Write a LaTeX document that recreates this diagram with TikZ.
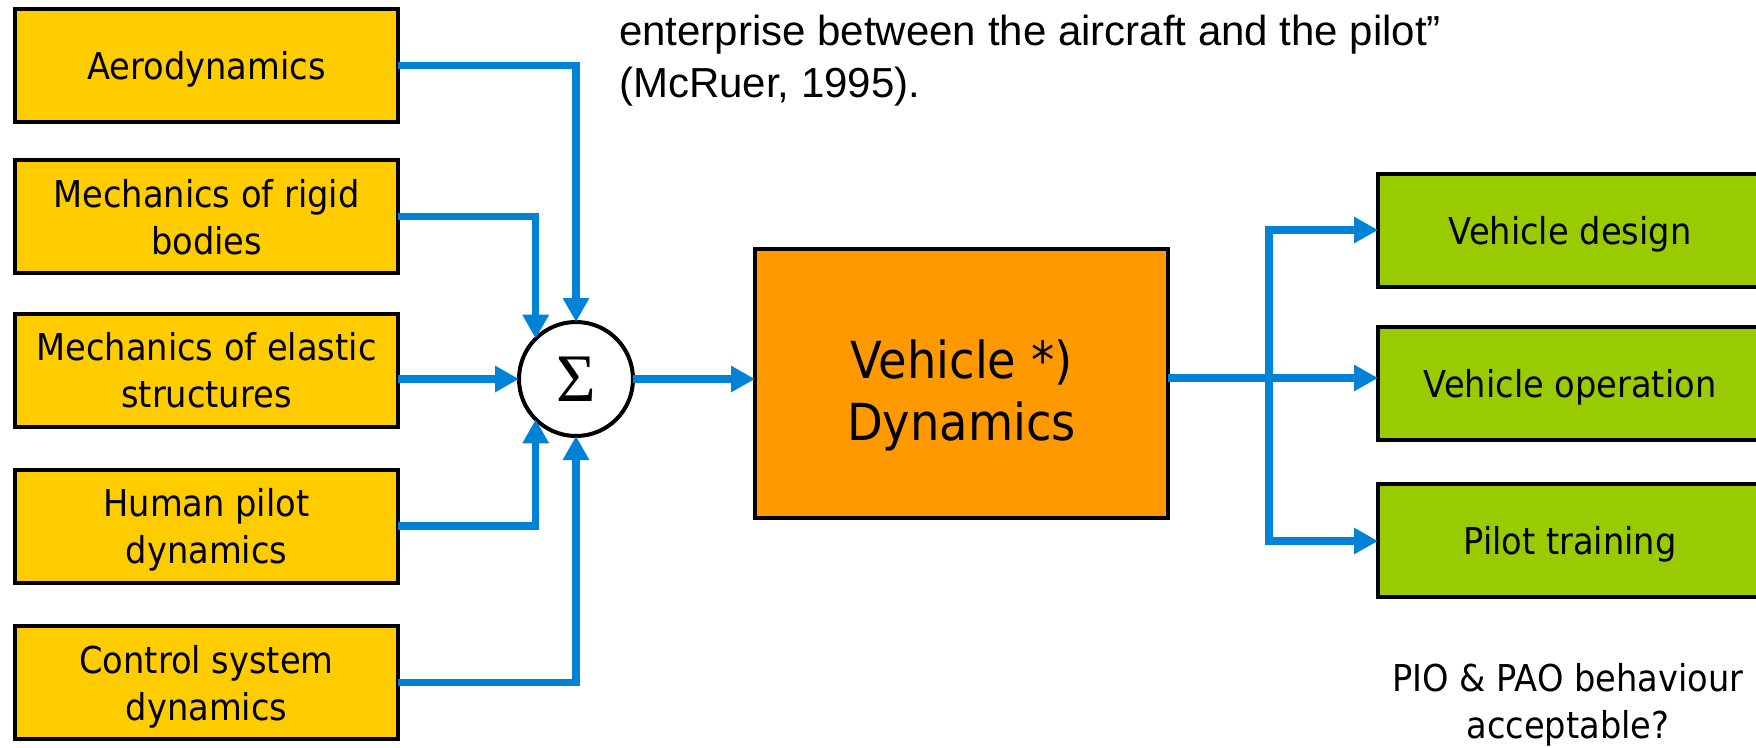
\documentclass[tikz,border=0pt]{standalone}
\usepackage{fontspec}
\usetikzlibrary{arrows.meta}
\newfontfamily\boxfont[FakeStretch=0.91]{DejaVu Sans}
\newfontfamily\quotefont{Liberation Sans}
\newfontfamily\sigmafont{Liberation Serif}
\definecolor{boxyellow}{HTML}{FFCC00}
\definecolor{boxorange}{HTML}{FF9900}
\definecolor{boxgreen}{HTML}{99CC00}
\definecolor{linkblue}{HTML}{0082D6}
\tikzset{
  inbox/.style={draw=black, line width=4pt, fill=boxyellow, minimum width=383pt,
    minimum height=113pt, align=center, inner sep=0pt, outer sep=0pt, text depth=0pt,
    font=\boxfont\fontsize{37}{47}\selectfont},
  outbox/.style={inbox, fill=boxgreen, minimum width=384pt},
  corebox/.style={inbox, fill=boxorange, minimum width=413pt, minimum height=269pt},
  coretext/.style={align=center, inner sep=0pt, text depth=0pt,
    font=\boxfont\fontsize{51}{62}\selectfont},
  sumnode/.style={draw=black, line width=4pt, circle, fill=white, minimum size=114pt,
    inner sep=0pt, outer sep=0pt, font=\sigmafont\fontsize{68}{68}\selectfont},
  link/.style={draw=linkblue, line width=7.5pt, -{Triangle[length=24pt,width=25pt]}},
  plainlink/.style={draw=linkblue, line width=7.5pt},
  quote/.style={anchor=base west, inner sep=0pt, font=\quotefont\fontsize{42}{52}\selectfont},
  note/.style={align=center, inner sep=0pt, font=\boxfont\fontsize{37}{47}\selectfont}
}
\begin{document}
\begin{tikzpicture}[x=1pt, y=-1pt]
\useasboundingbox (0,0) rectangle (1756,747);
\clip (0,0) rectangle (1756,747);

% input disciplines
\node[inbox] (aero)  at (206.5, 65.5)  {Aerodynamics};
\node[inbox] (rigid) at (206.5, 216.5) {Mechanics of rigid\\bodies};
\node[inbox] (elast) at (206.5, 370)   {Mechanics of elastic\\structures};
\node[inbox] (human) at (206.5, 526)   {Human pilot\\dynamics};
\node[inbox] (ctrl)  at (206.5, 682.5) {Control system\\dynamics};

% summing junction and vehicle dynamics
\node[sumnode] (sum) at (576, 379) {Σ};
\node[corebox] (veh) at (961.5, 383.5) {};
\node[coretext] (vehtext) at (961.5, 390) {Vehicle *)\\Dynamics};

% applications
\node[outbox] (design) at (1570, 230.5) {Vehicle design};
\node[outbox] (oper)   at (1570, 383)   {Vehicle operation};
\node[outbox] (train)  at (1570, 540.5) {Pilot training};

% quotation
\node[quote] (q1) at (619, 45) {enterprise between the aircraft and the pilot”};
\node[quote] (q2) at (619, 97) {(McRuer, 1995).};

% question below the applications
\node[note] (pio) at (1568, 705) {PIO \& PAO behaviour\\acceptable?};

% inputs into the sum
\draw[link] (aero.east) -| (sum.north);
\draw[link] (rigid.east) -| (sum.135);
\draw[link] (elast.east |- sum.west) -- (sum.west);
\draw[link] (human.east) -| (sum.225);
\draw[link] (ctrl.east) -| (sum.south);

% sum into the vehicle
\draw[link] (sum.east) -- (veh.west |- sum.east);

% vehicle out to the applications
\coordinate (split) at (1269, 378);
\draw[plainlink] (veh.east |- split) -- (split);
\draw[link] (split) -- (oper.west |- split);
\draw[link] (split) |- (design.west |- 0,230);
\draw[link] (split) |- (train.west |- 0,541);
\end{tikzpicture}
\end{document}
